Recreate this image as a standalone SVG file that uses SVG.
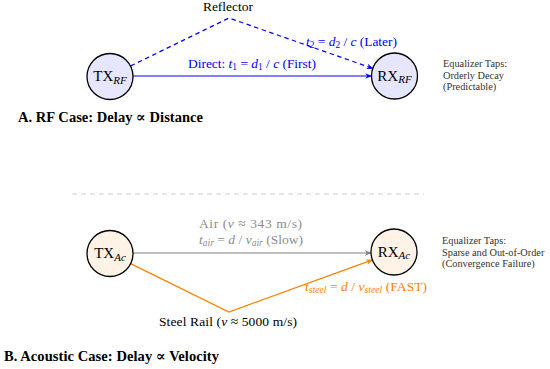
<svg xmlns="http://www.w3.org/2000/svg" width="550" height="369" viewBox="0 0 550 369">
<style>
text{font-family:"Liberation Serif","DejaVu Serif",serif;}
.node{stroke:#000;stroke-width:1.3;}
.rf{fill:#E6E6FF;}
.ac{fill:#FFF2E6;}
.nl{font-size:15px;fill:#000;}
.lbl{font-size:13.5px;}
.blue{fill:#0000FF;}
.gray{fill:#8c8c8c;}
.orange{fill:#FF8000;}
.note{font-size:10.3px;fill:#333;}
.title{font-size:14.5px;font-weight:bold;fill:#000;}
.it{font-style:italic;}
.sub{font-size:9.5px;}
</style>
<defs>
<marker id="ab" viewBox="0 0 10 10" refX="9" refY="5" markerWidth="7" markerHeight="7" markerUnits="userSpaceOnUse" orient="auto"><path d="M0,1 L10,5 L0,9 L3,5 Z" fill="#0000FF"/></marker>
<marker id="ag" viewBox="0 0 10 10" refX="9" refY="5" markerWidth="7" markerHeight="7" markerUnits="userSpaceOnUse" orient="auto"><path d="M0,1 L10,5 L0,9 L3,5 Z" fill="#808080"/></marker>
<marker id="ao" viewBox="0 0 10 10" refX="9" refY="5" markerWidth="7" markerHeight="7" markerUnits="userSpaceOnUse" orient="auto"><path d="M0,1 L10,5 L0,9 L3,5 Z" fill="#FF8000"/></marker>
</defs>
<g id="connectors" fill="none">
<polyline points="130.7,65.9 229,18 372.8,68.4" stroke="#0000FF" stroke-width="1.2" stroke-dasharray="4.5,3.5" marker-end="url(#ab)"/>
<line x1="133" y1="76" x2="371.5" y2="76" stroke="#0000FF" stroke-width="1.2" marker-end="url(#ab)"/>
<line x1="133" y1="253" x2="371" y2="253" stroke="#808080" stroke-width="1.2" marker-end="url(#ag)"/>
<polyline points="130.6,263.6 229,312 372.4,259.9" stroke="#FF8000" stroke-width="1.2" marker-end="url(#ao)"/>
<line x1="72" y1="194" x2="424" y2="194" stroke="#cccccc" stroke-width="1" stroke-dasharray="5,4"/>
</g>
<g id="tx_rf">
<circle class="node rf" cx="110" cy="76.5" r="23"/>
<text class="nl" x="110" y="81" text-anchor="middle">TX<tspan class="it" font-size="11px" dy="2.5">RF</tspan></text>
</g>
<g id="rx_rf">
<circle class="node rf" cx="394.5" cy="76" r="23"/>
<text class="nl" x="394.5" y="80.5" text-anchor="middle">RX<tspan class="it" font-size="11px" dy="2.5">RF</tspan></text>
</g>
<g id="tx_ac">
<circle class="node ac" cx="110" cy="253.5" r="23"/>
<text class="nl" x="110" y="258" text-anchor="middle">TX<tspan class="it" font-size="11px" dy="2.5">Ac</tspan></text>
</g>
<g id="rx_ac">
<circle class="node ac" cx="394" cy="252" r="23"/>
<text class="nl" x="394" y="256.5" text-anchor="middle">RX<tspan class="it" font-size="11px" dy="2.5">Ac</tspan></text>
</g>
<g id="labels">
<text class="lbl" x="228" y="11" text-anchor="middle" fill="#000">Reflector</text>
<text class="lbl blue" x="252" y="68" text-anchor="middle" textLength="128" lengthAdjust="spacing">Direct: <tspan class="it">t</tspan><tspan class="sub" dy="2">1</tspan><tspan dy="-2"> = </tspan><tspan class="it">d</tspan><tspan class="sub" dy="2">1</tspan><tspan dy="-2"> / </tspan><tspan class="it">c</tspan> (First)</text>
<text class="lbl blue" x="351.5" y="46" text-anchor="middle" textLength="91" lengthAdjust="spacing"><tspan class="it">t</tspan><tspan class="sub" dy="2">2</tspan><tspan dy="-2"> = </tspan><tspan class="it">d</tspan><tspan class="sub" dy="2">2</tspan><tspan dy="-2"> / </tspan><tspan class="it">c</tspan> (Later)</text>
<text class="lbl gray" x="250.5" y="228" text-anchor="middle" textLength="103" lengthAdjust="spacing">Air (<tspan class="it">v</tspan> ≈ 343 m/s)</text>
<text class="lbl gray" x="251" y="244" text-anchor="middle" textLength="104" lengthAdjust="spacing"><tspan class="it">t</tspan><tspan class="it sub" dy="2">air</tspan><tspan dy="-2"> = </tspan><tspan class="it">d</tspan> / <tspan class="it">v</tspan><tspan class="it sub" dy="2">air</tspan><tspan dy="-2"> (Slow)</tspan></text>
<text class="lbl orange" x="366" y="291" text-anchor="middle" textLength="122" lengthAdjust="spacing"><tspan class="it">t</tspan><tspan class="it sub" dy="2">steel</tspan><tspan dy="-2"> = </tspan><tspan class="it">d</tspan> / <tspan class="it">v</tspan><tspan class="it sub" dy="2">steel</tspan><tspan dy="-2"> (FAST)</tspan></text>
<text class="lbl" x="228" y="326" text-anchor="middle" fill="#000" textLength="138" lengthAdjust="spacing">Steel Rail (<tspan class="it">v</tspan> ≈ 5000 m/s)</text>
<text class="note" x="443" y="67">Equalizer Taps:</text>
<text class="note" x="443" y="78.5">Orderly Decay</text>
<text class="note" x="443" y="90">(Predictable)</text>
<text class="note" x="442" y="244">Equalizer Taps:</text>
<text class="note" x="442" y="255.5">Sparse and Out-of-Order</text>
<text class="note" x="442" y="267">(Convergence Failure)</text>
<text class="title" x="18" y="122" textLength="185" lengthAdjust="spacing">A. RF Case: Delay ∝ Distance</text>
<text class="title" x="4" y="361" textLength="215" lengthAdjust="spacing">B. Acoustic Case: Delay ∝ Velocity</text>
</g>
</svg>
